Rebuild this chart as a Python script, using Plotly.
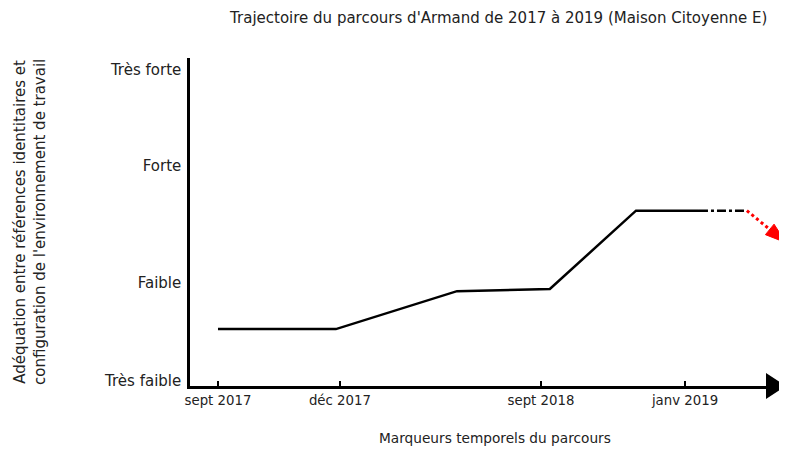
import plotly.graph_objects as go

# Data
tick_pos = [0, 4.53, 12, 17.35]
tick_labels = ["sept 2017", "déc 2017", "sept 2018", "janv 2019"]
level_pos = [0, 3.15, 6.91, 10.0]
level_labels = ["Très faible", "Faible", "Forte", "Très forte"]

path_x = [0, 4.38, 8.88, 12.33, 15.53, 17.87]
path_y = [1.67, 1.67, 2.89, 2.96, 5.48, 5.48]
dash_x = [17.87, 19.65]
dash_y = [5.48, 5.48]
trend_x = [19.65, 21.1]
trend_y = [5.48, 4.45]

FONT = "DejaVu Sans"
TXT = "#222"

fig = go.Figure()
fig.add_trace(go.Scatter(x=path_x, y=path_y, mode="lines",
                         line=dict(color="black", width=2.5), showlegend=False))
fig.add_trace(go.Scatter(x=dash_x, y=dash_y, mode="lines",
                         line=dict(color="black", width=2.5, dash="dashdot"), showlegend=False))
fig.add_trace(go.Scatter(x=trend_x, y=trend_y, mode="lines+markers",
                         line=dict(color="#ff0000", width=3, dash="dot"),
                         marker=dict(symbol="arrow", angleref="previous", size=[0, 22],
                                     color="#ff0000", opacity=1,
                                     line=dict(color="#ff0000", width=1)),
                         cliponaxis=False, showlegend=False))

fig.update_layout(
    width=779, height=453,
    margin=dict(l=182, r=0, t=50, b=75),
    plot_bgcolor="white", paper_bgcolor="white",
    font=dict(family=FONT, size=13, color=TXT),
    title=dict(text="Trajectoire du parcours d'Armand de 2017 à 2019 (Maison Citoyenne E)",
               x=0.630, xanchor="center", y=0.978, yanchor="middle",
               font=dict(family=FONT, size=15, color=TXT)),
    xaxis=dict(range=[-1.04, 21.14], tickvals=tick_pos, ticktext=tick_labels,
               showgrid=False, zeroline=False, showline=True, linecolor="black", linewidth=2.5,
               ticks="inside", ticklen=5, tickwidth=2, tickcolor="black",
               tickfont=dict(family=FONT, size=13.3, color=TXT)),
    yaxis=dict(range=[-0.16, 10.39], tickvals=level_pos, ticktext=level_labels,
               showgrid=False, zeroline=False, showline=True, linecolor="black", linewidth=2.5,
               ticks="", ticklabelstandoff=3,
               tickfont=dict(family=FONT, size=15, color=TXT)),
)

# x-axis arrow head
fig.add_shape(type="path", xref="paper", yref="paper",
              xsizemode="pixel", ysizemode="pixel", xanchor=1, yanchor=0,
              path="M-21,-13 L-21,13 L-1,0 Z", fillcolor="black", line=dict(width=0))

fig.add_annotation(text="Marqueurs temporels du parcours", xref="paper", yref="paper",
                   x=0.511, y=-0.16, showarrow=False, yanchor="middle",
                   font=dict(family=FONT, size=13.7, color=TXT))
fig.add_annotation(text="Adéquation entre références identitaires et<br>configuration de l'environnement de travail",
                   xref="paper", yref="paper", x=-0.268, y=0.5, textangle=-90,
                   showarrow=False, xanchor="center", yanchor="middle",
                   font=dict(family=FONT, size=15, color=TXT))

fig.write_html("out.html")
